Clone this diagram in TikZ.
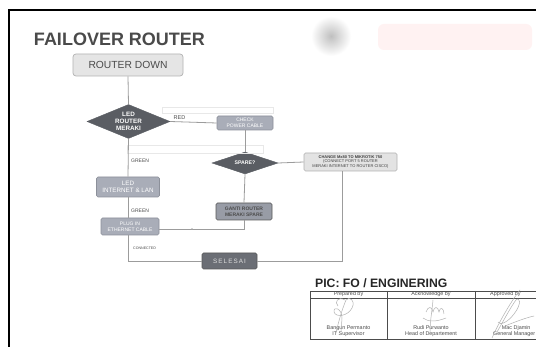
\documentclass[tikz,border=0pt]{standalone}
\usepackage{fontspec}
\setmainfont{Liberation Sans}
\usetikzlibrary{shapes.geometric,calc}
\definecolor{boxfill}{HTML}{A9ADB8}
\definecolor{boxline}{HTML}{8C909A}
\definecolor{diamfill}{HTML}{5A5D63}
\definecolor{linegray}{HTML}{9C9C9C}
\definecolor{titlegray}{HTML}{4A4A4A}
\definecolor{darkbox}{HTML}{6B6E75}
\newcommand{\fs}[2]{\fontsize{#1}{#2}\selectfont}
\begin{document}
\begin{tikzpicture}[x=1pt,y=-1pt,
  conn/.style={draw=linegray, line width=0.8pt},
  lightbox/.style={draw=gray!60, fill=gray!20, rounded corners=3pt, line width=0.7pt, inner sep=0pt, text=titlegray},
  midbox/.style={draw=boxline, fill=boxfill, rounded corners=1.5pt, line width=0.6pt, inner sep=0pt, align=center, text=white},
  darkdiam/.style={diamond, fill=diamfill, draw=diamfill, inner sep=0pt, align=center, text=white},
  lbl/.style={text=titlegray, inner sep=0pt},
  tabtxt/.style={text=black!70, inner sep=0pt, align=center, font=\fs{5.4}{6.2}},
  sig/.style={draw=gray!60, line width=0.5pt}
]
\useasboundingbox (0,0) rectangle (536,347);
\clip (0,0) rectangle (536,347);
\fill[white] (0,0) rectangle (536,347);
% frame
\draw[line width=2pt, black] (9,350) -- (9,10) -- (540,10);
% blurred redacted logo
\shade[inner color=gray!50, outer color=white] (331,36) circle (20);
\fill[red!5, rounded corners=6pt] (378,24) rectangle (532,50);
% title
\node[lbl, font=\fs{18}{18}\bfseries] (title) at (119.5,39) {FAILOVER ROUTER};
% nodes
\node[lightbox, minimum width=110pt, minimum height=22pt, font=\fs{10.3}{11}] (down) at (128,65) {ROUTER DOWN};
\node[darkdiam, aspect=2.45, minimum width=83pt, minimum height=34pt, font=\fs{6.3}{6.8}\bfseries] (meraki) at (128.5,121.5) {LED\\ROUTER\\MERAKI};
\node[midbox, minimum width=56pt, minimum height=14pt, font=\fs{5}{5.6}] (check) at (245,123) {CHECK\\POWER CABLE};
\node[darkdiam, aspect=3, minimum width=66pt, minimum height=22pt, font=\fs{5.2}{5.6}\bfseries] (spare) at (245,163) {SPARE?};
\node[midbox, fill=gray!22, draw=gray!60, text=black!75, minimum width=93pt, minimum height=18pt, font=\fs{4}{4.6}] (change) at (350.5,162) {\textbf{CHANGE Mx80 TO MIKROTIK 750}\\(CONNECT PORT 5 ROUTER\\MERAKI INTERNET TO ROUTER CISCO)};
\node[midbox, minimum width=63pt, minimum height=20pt, font=\fs{6.3}{7}] (ledint) at (128,187) {LED\\INTERNET \& LAN};
\node[midbox, fill=boxfill!90!black, draw=gray!70!black, text=black!70, minimum width=56pt, minimum height=17pt, font=\fs{5}{5.6}\bfseries] (ganti) at (244,211.5) {GANTI ROUTER\\MERAKI SPARE};
\node[midbox, minimum width=58pt, minimum height=17pt, font=\fs{5}{5.6}] (plug) at (130,226.5) {PLUG IN\\ETHERNET CABLE};
\node[midbox, fill=darkbox, draw=gray!70!black, text=gray!25, minimum width=55pt, minimum height=16pt, font=\fs{6.3}{7}] (selesai) at (229.5,261) {S\,E\,L\,E\,S\,A\,I};
% faint scan boxes
\draw[gray!18, line width=0.4pt] (162,107) rectangle (273,113);
\draw[gray!18, line width=0.4pt] (127,145) rectangle (263,153);
% connectors
\draw[conn] (down.south) -- (meraki.north);
\draw[conn] (meraki.east) -- (check.west);
\node[lbl, font=\fs{5.5}{6}] (red) at (179.5,118) {RED};
\draw[conn] (meraki.south) -- (ledint.north);
\node[lbl, font=\fs{5}{6}, anchor=west] (green1) at (131,161) {GREEN};
\draw[conn] (check.south) -- (spare.north);
\draw[conn] (spare.east) -- (change.west);
\draw[conn] (spare.south) -- (ganti.north);
\draw[conn] (ganti.south) |- ([yshift=-2.5pt]plug.east);
\draw[conn] (ledint.south) -- (plug.north -| ledint.south);
\node[lbl, font=\fs{5}{6}, anchor=west] (green2) at (131,211) {GREEN};
\draw[conn] (plug.south -| ledint.south) |- (selesai.west);
\node[lbl, font=\fs{3.6}{4}, anchor=west] (conn1) at (133,248) {CONNECTED};
\draw[conn] (selesai.east) -| ([xshift=-8.5pt]change.south);
\fill[gray!70] (192,229) circle (0.8);
% PIC
\node[lbl, text=black!85, font=\fs{12.2}{13}\bfseries, anchor=west] (pic) at (315,283) {PIC: FO / ENGINERING};
% table
\draw[black!70, line width=0.5pt] (310,291) rectangle (560,339);
\draw[black!70, line width=0.5pt] (310,298) -- (560,298);
\draw[black!70, line width=0.5pt] (387,291) -- (387,339);
\draw[black!70, line width=0.5pt] (475,291) -- (475,339);
\node[tabtxt] (h1) at (348.5,294.6) {Prepared by};
\node[tabtxt] (h2) at (431,294.6) {Acknowledge by};
\node[tabtxt, anchor=west] (h3) at (490,294.6) {Approved by};
\node[tabtxt] (n1) at (348.5,331) {Bangun Permanto\\IT Supervisor};
\node[tabtxt] (n2) at (431,331) {Rudi Purwanto\\Head of Departement};
\node[tabtxt, anchor=west] (n3) at (493,331) {\hspace*{4pt}Mac Djamin\\General Manager};
% signatures
\draw[sig] (336,333) .. controls (340,315) and (344,305) .. (346,300) .. controls (349,296) and (356,300) .. (352,308) .. controls (348,316) and (336,318) .. (334,312) .. controls (333,306) and (342,308) .. (342,318) -- (341,332);
\draw[sig] (345,300) .. controls (338,296) and (334,302) .. (338,306);
\draw[sig] (430,334) .. controls (430,320) and (432,312) .. (433,300);
\draw[sig] (426,312) .. controls (428,306) and (432,306) .. (433,312) .. controls (434,306) and (438,306) .. (439,312) .. controls (440,306) and (444,308) .. (444,314);
\draw[sig] (423,318) .. controls (428,322) and (436,322) .. (446,318);
\draw[sig] (492,338) .. controls (500,320) and (512,300) .. (520,290);
\draw[sig] (497,332) .. controls (505,318) and (512,305) .. (516,300) .. controls (520,296) and (522,304) .. (514,314) .. controls (508,322) and (500,326) .. (498,322);
\draw[sig] (505,326) .. controls (515,322) and (525,318) .. (534,316);
\end{tikzpicture}
\end{document}
